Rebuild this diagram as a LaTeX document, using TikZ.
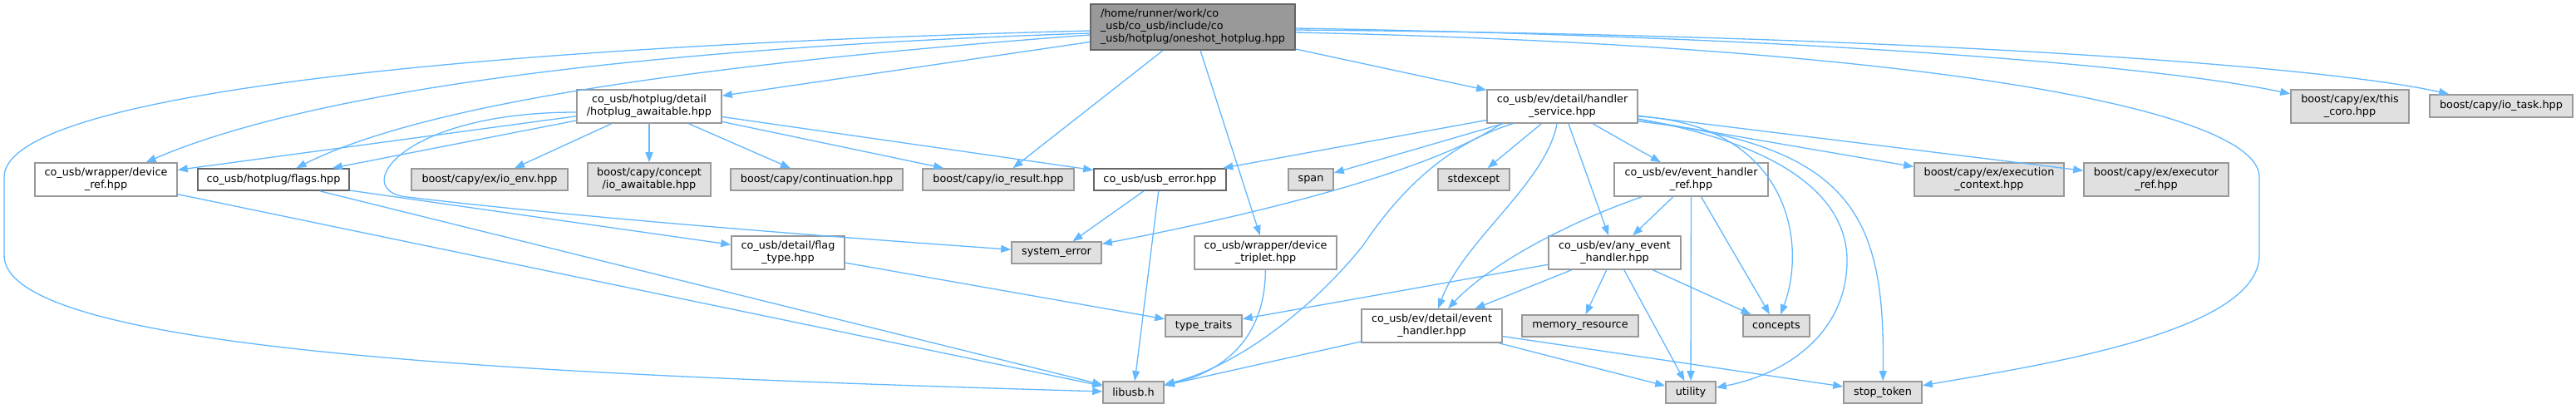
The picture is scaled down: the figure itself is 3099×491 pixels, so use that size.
\documentclass[tikz,border=0pt]{standalone}
\usepackage{fontspec}
\setmainfont{DejaVu Sans}
\usetikzlibrary{arrows.meta}
\definecolor{depblue}{HTML}{63B8FF}
\definecolor{rootfill}{HTML}{999999}
\definecolor{extfill}{HTML}{E0E0E0}
\definecolor{darkline}{HTML}{666666}
\definecolor{lightline}{HTML}{999999}

\begin{document}
\begin{tikzpicture}[x=1pt,y=-1pt,
  font=\fontsize{12.8}{15}\selectfont,
  box/.style={draw=lightline, line width=1.6pt, fill=white, inner sep=0pt, align=center},
  darkbox/.style={box, draw=darkline},
  extbox/.style={box, fill=extfill},
  rootbox/.style={box, draw=darkline, fill=rootfill, align=left},
  dep/.style={draw=depblue, line width=1.3pt, -{Triangle[length=12pt,width=9pt]}}]
\useasboundingbox[fill=white] (0,0) rectangle (3099,491);
% rank 0 and 1
\node[rootbox, minimum width=246pt, minimum height=55pt] (root) at (1435,32.5) {/home/runner/work/co\\\_usb/co\_usb/include/co\\\_usb/hotplug/oneshot\_hotplug.hpp};
\node[box, minimum width=174pt, minimum height=40pt] (awaitable) at (781,128) {co\_usb/hotplug/detail\\/hotplug\_awaitable.hpp};
\node[box, minimum width=181pt, minimum height=40pt] (hservice) at (1879.5,128) {co\_usb/ev/detail/handler\\\_service.hpp};
\node[extbox, minimum width=142pt, minimum height=40pt] (thiscoro) at (2827,128) {boost/capy/ex/this\\\_coro.hpp};
\node[extbox, minimum width=172pt, minimum height=27pt] (iotask) at (3009,127.5) {boost/capy/io\_task.hpp};
% rank 2
\node[box, minimum width=171pt, minimum height=40pt] (devref) at (127.5,216) {co\_usb/wrapper/device\\\_ref.hpp};
\node[darkbox, minimum width=182pt, minimum height=26pt] (flags) at (329,216) {co\_usb/hotplug/flags.hpp};
\node[extbox, minimum width=188pt, minimum height=26pt] (ioenv) at (589,216) {boost/capy/ex/io\_env.hpp};
\node[extbox, minimum width=148pt, minimum height=40pt] (ioawait) at (781,216) {boost/capy/concept\\/io\_awaitable.hpp};
\node[extbox, minimum width=207pt, minimum height=26pt] (contin) at (982.5,216) {boost/capy/continuation.hpp};
\node[extbox, minimum width=182pt, minimum height=26pt] (ioresult) at (1201,216) {boost/capy/io\_result.hpp};
\node[darkbox, minimum width=159pt, minimum height=26pt] (usberr) at (1395.5,216) {co\_usb/usb\_error.hpp};
\node[extbox, minimum width=54pt, minimum height=26pt] (span) at (1577,216) {span};
\node[extbox, minimum width=86pt, minimum height=26pt] (stdexc) at (1773,216) {stdexcept};
\node[box, minimum width=185pt, minimum height=40pt] (evref) at (2034.5,216) {co\_usb/ev/event\_handler\\\_ref.hpp};
\node[extbox, minimum width=180pt, minimum height=40pt] (execctx) at (2393,216) {boost/capy/ex/execution\\\_context.hpp};
\node[extbox, minimum width=174pt, minimum height=40pt] (execref) at (2594,216) {boost/capy/ex/executor\\\_ref.hpp};
% rank 3
\node[box, minimum width=136pt, minimum height=40pt] (flagtype) at (948,304) {co\_usb/detail/flag\\\_type.hpp};
\node[extbox, minimum width=108pt, minimum height=26pt] (syserr) at (1271,304) {system\_error};
\node[box, minimum width=171pt, minimum height=40pt] (devtrip) at (1522.5,304) {co\_usb/wrapper/device\\\_triplet.hpp};
\node[box, minimum width=159pt, minimum height=40pt] (anyev) at (1942.5,304) {co\_usb/ev/any\_event\\\_handler.hpp};
% rank 4
\node[extbox, minimum width=92pt, minimum height=26pt] (typetr) at (1448,392) {type\_traits};
\node[box, minimum width=169pt, minimum height=40pt] (evhandler) at (1722.5,392) {co\_usb/ev/detail/event\\\_handler.hpp};
\node[extbox, minimum width=140pt, minimum height=26pt] (memres) at (1901,392) {memory\_resource};
\node[extbox, minimum width=80pt, minimum height=26pt] (concepts) at (2137,392) {concepts};
% rank 5
\node[extbox, minimum width=73pt, minimum height=26pt] (libusb) at (1363.5,472) {libusb.h};
\node[extbox, minimum width=60pt, minimum height=26pt] (utility) at (2034,472) {utility};
\node[extbox, minimum width=94pt, minimum height=26pt] (stoptok) at (2265,472) {stop\_token};
% oneshot_hotplug.hpp
\path[dep] (root.west |- 0,37) .. controls (600,55) and (5,110) .. (5,213) -- (5,307) .. controls (5,420) and (600,450) .. (libusb);
\path[dep] (root.west |- 0,40) .. controls (700,60) and (350,120) .. (devref);
\path[dep] (root.west |- 0,42) .. controls (800,80) and (500,130) .. (flags);
\path[dep] (root) -- (awaitable);
\path[dep] (root) -- (ioresult);
\path[dep] (root) -- (devtrip);
\path[dep] (root) -- (hservice);
\path[dep] (root.east |- 0,34) .. controls (2200,45) and (2600,80) .. (thiscoro);
\path[dep] (root.east |- 0,36) .. controls (2300,42) and (2800,80) .. (iotask);
\path[dep] (root.east |- 0,39) .. controls (2300,55) and (2718,130) .. (2718,213) -- (2718,307) .. controls (2718,400) and (2450,440) .. (stoptok);
% hotplug_awaitable.hpp
\path[dep] (awaitable) -- (devref);
\path[dep] (awaitable) -- (flags);
\path[dep] (awaitable.west |- 0,135) .. controls (480,135) and (420,230) .. (490,237) .. controls (700,262) and (1000,285) .. (syserr);
\path[dep] (awaitable) -- (ioenv);
\path[dep] (awaitable) -- (ioawait);
\path[dep] (awaitable) -- (contin);
\path[dep] (awaitable) -- (ioresult);
\path[dep] (awaitable) -- (usberr);
% small headers
\path[dep] (devref) -- (libusb);
\path[dep] (flags) -- (flagtype);
\path[dep] (flags) -- (libusb);
\path[dep] (flagtype) -- (typetr);
\path[dep] (usberr) -- (syserr);
\path[dep] (usberr) -- (libusb);
\path[dep] (devtrip) .. controls (1522,400) and (1480,445) .. (libusb);
% handler_service.hpp
\path[dep] (hservice) -- (usberr);
\path[dep] (hservice) -- (span);
\path[dep] (hservice.south -| 1806,0) .. controls (1730,200) and (1550,250) .. (syserr);
\path[dep] (hservice.south -| 1820,0) .. controls (1750,170) and (1690,220) .. (1640,295) .. controls (1580,370) and (1490,440) .. (libusb);
\path[dep] (hservice) -- (stdexc);
\path[dep] (hservice.south -| 1873,0) .. controls (1860,220) and (1760,290) .. (evhandler);
\path[dep] (hservice) -- (anyev);
\path[dep] (hservice) -- (evref);
\path[dep] (hservice.east |- 0,140) .. controls (2150,150) and (2175,290) .. (concepts);
\path[dep] (hservice.east |- 0,143) .. controls (2150,175) and (2222,240) .. (2222,313) .. controls (2222,400) and (2150,450) .. (utility);
\path[dep] (hservice.east |- 0,146) .. controls (2230,175) and (2268,260) .. (stoptok);
\path[dep] (hservice) -- (execctx);
\path[dep] (hservice) -- (execref);
% event handlers
\path[dep] (evref) .. controls (1880,270) and (1790,320) .. (evhandler);
\path[dep] (evref) -- (anyev);
\path[dep] (evref) -- (utility);
\path[dep] (evref) -- (concepts);
\path[dep] (anyev) -- (typetr);
\path[dep] (anyev) -- (evhandler);
\path[dep] (anyev) -- (memres);
\path[dep] (anyev) -- (utility);
\path[dep] (anyev) -- (concepts);
\path[dep] (evhandler) -- (libusb);
\path[dep] (evhandler) -- (utility);
\path[dep] (evhandler) -- (stoptok);
\end{tikzpicture}
\end{document}
